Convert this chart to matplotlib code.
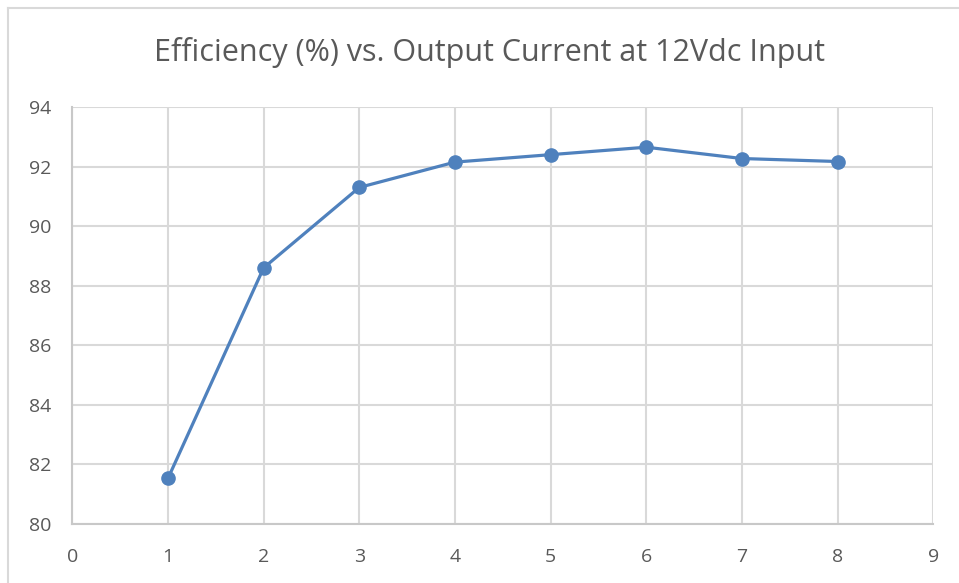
import matplotlib
matplotlib.use("Agg")
import matplotlib.pyplot as plt
from matplotlib.lines import Line2D

current = [1, 2, 3, 4, 5, 6, 7, 8]
efficiency = [81.53, 88.6, 91.3, 92.15, 92.4, 92.65, 92.27, 92.17]
x_ticks = list(range(0, 10))
y_ticks = list(range(80, 95, 2))
title = "Efficiency (%) vs. Output Current at 12Vdc Input"

plt.rcParams['font.family'] = ['Open Sans', 'DejaVu Sans']
W, H = 959, 583
fig = plt.figure(figsize=(W / 100, H / 100), dpi=100)
ax = fig.add_axes([72.3 / W, 1 - 524 / H, (933.3 - 72.3) / W, (524 - 107) / H])

line_color = '#4F81BD'
ax.plot(current, efficiency, color=line_color, linewidth=2.3, marker='o',
        markersize=9.5, markerfacecolor=line_color, markeredgecolor=line_color,
        zorder=3, solid_capstyle='round')

ax.set_xlim(0, 9)
ax.set_ylim(80, 94)
ax.set_xticks(x_ticks)
ax.set_yticks(y_ticks)
ax.grid(True, color='#D9D9D9', linewidth=1.5)
ax.set_axisbelow(True)
for s in ['top', 'right']:
    ax.spines[s].set_visible(False)
for s in ['left', 'bottom']:
    ax.spines[s].set_color('#C8C8C8')
    ax.spines[s].set_linewidth(1.5)
ax.tick_params(length=0, colors='#595959', labelsize=14)
ax.tick_params(axis='x', pad=17)
ax.tick_params(axis='y', pad=15)

fig.text(489 / W, 1 - 53 / H, title, ha='center', va='center',
         fontsize=22, color='#595959')

# chart border
fig.add_artist(Line2D([8 / W, 1.0], [1 - 8 / H, 1 - 8 / H], color='#D9D9D9', linewidth=1.5))
fig.add_artist(Line2D([8 / W, 8 / W], [0, 1 - 8 / H], color='#D9D9D9', linewidth=1.5))

fig.savefig('out.png', dpi=100)
